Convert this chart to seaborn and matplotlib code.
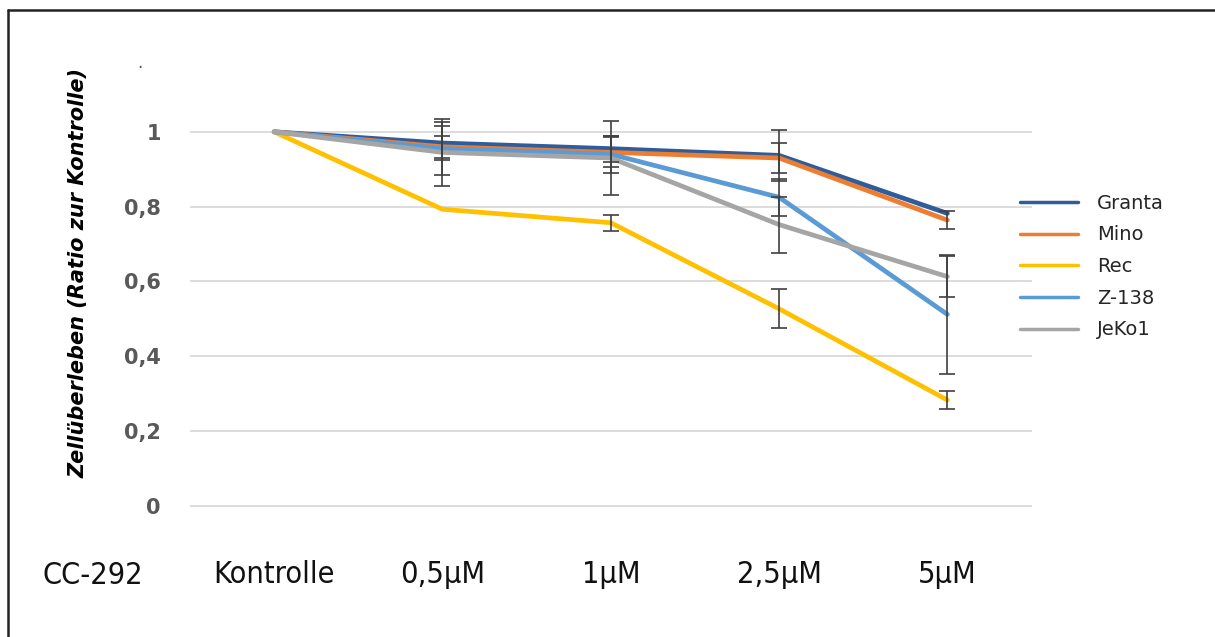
import matplotlib
matplotlib.use("Agg")
import matplotlib.pyplot as plt
import seaborn as sns
import pandas as pd
import numpy as np

# Dose steps and cell lines
doses = ["Kontrolle", "0,5µM", "1µM", "2,5µM", "5µM"]
cell_lines = ["Granta", "Mino", "Rec", "Z-138", "JeKo1"]

# Mean survival ratio relative to control
granta = [1.00, 0.970, 0.955, 0.937, 0.782]
mino = [1.00, 0.960, 0.945, 0.930, 0.764]
rec = [1.00, 0.793, 0.757, 0.527, 0.283]
z138 = [1.00, 0.955, 0.940, 0.825, 0.512]
jeko1 = [1.00, 0.945, 0.930, 0.752, 0.613]

# Standard deviations
granta_err = [0.0, 0.045, 0.035, 0.068, 0.0]
mino_err = [0.0, 0.030, 0.040, 0.040, 0.025]
rec_err = [0.0, 0.0, 0.022, 0.052, 0.024]
z138_err = [0.0, 0.070, 0.050, 0.050, 0.160]
jeko1_err = [0.0, 0.090, 0.100, 0.075, 0.055]

colors = ["#2F5C9B", "#ED7D31", "#FFC000", "#5B9BD5", "#A5A5A5"]

means = [granta, mino, rec, z138, jeko1]
errs = [granta_err, mino_err, rec_err, z138_err, jeko1_err]

df = pd.DataFrame({
    "Dosis": doses * len(cell_lines),
    "Ratio": np.concatenate(means),
    "Zelllinie": np.repeat(cell_lines, len(doses)),
})

sns.set_theme(style="white")
plt.rcParams["font.family"] = ["DejaVu Sans"]

fig = plt.figure(figsize=(12.15, 6.37), dpi=100)
ax = fig.add_axes([0.1564, 0.204, 0.6926, 0.7065])

sns.lineplot(data=df, x="Dosis", y="Ratio", hue="Zelllinie",
             hue_order=cell_lines, palette=colors, linewidth=3.4,
             sort=False, ax=ax, legend=True)

xpos = np.arange(len(doses))
for m, e in zip(means, errs):
    e = np.asarray(e)
    mask = e > 0
    ax.errorbar(xpos[mask], np.asarray(m)[mask], yerr=e[mask], fmt="none",
                ecolor="#404040", elinewidth=1.2, capsize=6, capthick=1.2,
                zorder=5)

ax.set_xlim(-0.5, len(doses) - 0.5)
ax.set_ylim(-0.003, 1.2)
ax.set_yticks([0, 0.2, 0.4, 0.6, 0.8, 1.0])
ax.set_yticklabels(["0", "0,2", "0,4", "0,6", "0,8", "1"],
                   fontsize=15, fontweight="bold", color="#595959")
for y in [0, 0.2, 0.4, 0.6, 0.8, 1.0]:
    ax.axhline(y, color="#D9D9D9", linewidth=1.3, zorder=0)
ax.tick_params(axis="y", length=0, pad=21)

ax.set_xticks(xpos)
ax.set_xticklabels(doses, fontsize=22, color="#111111",
                   fontstretch="condensed")
ax.tick_params(axis="x", length=0, pad=38)
ax.set_xlabel("")
ax.set_ylabel("Zellüberleben (Ratio zur Kontrolle)", fontsize=15,
              fontweight="bold", fontstyle="italic", color="#000000")
ax.yaxis.set_label_coords(-0.12, 0.52)
for s in ax.spines.values():
    s.set_visible(False)
ax.text(-0.797, 1.17, ".", ha="center", va="baseline", fontsize=12,
        color="#595959", transform=ax.transData, clip_on=False)

leg = ax.legend(loc="upper left", bbox_to_anchor=(0.965, 0.735),
                frameon=False, fontsize=14, handlelength=3.0,
                handletextpad=1.0, labelspacing=0.65)
for h in leg.get_lines():
    h.set_linewidth(2.5)

fig.text(93 / 1215, 1 - 575 / 637, "CC-292", fontsize=22,
         fontstretch="condensed",
         ha="center", va="center", color="#111111")

# Outer frame lines (left and top)
fig.add_artist(plt.Line2D([8 / 1215, 8 / 1215], [0, 1 - 10 / 637],
                          transform=fig.transFigure, color="#222222", lw=1.8))
fig.add_artist(plt.Line2D([8 / 1215, 1], [1 - 10 / 637, 1 - 10 / 637],
                          transform=fig.transFigure, color="#222222", lw=1.8))

fig.savefig("out.png", dpi=100, facecolor="white")
